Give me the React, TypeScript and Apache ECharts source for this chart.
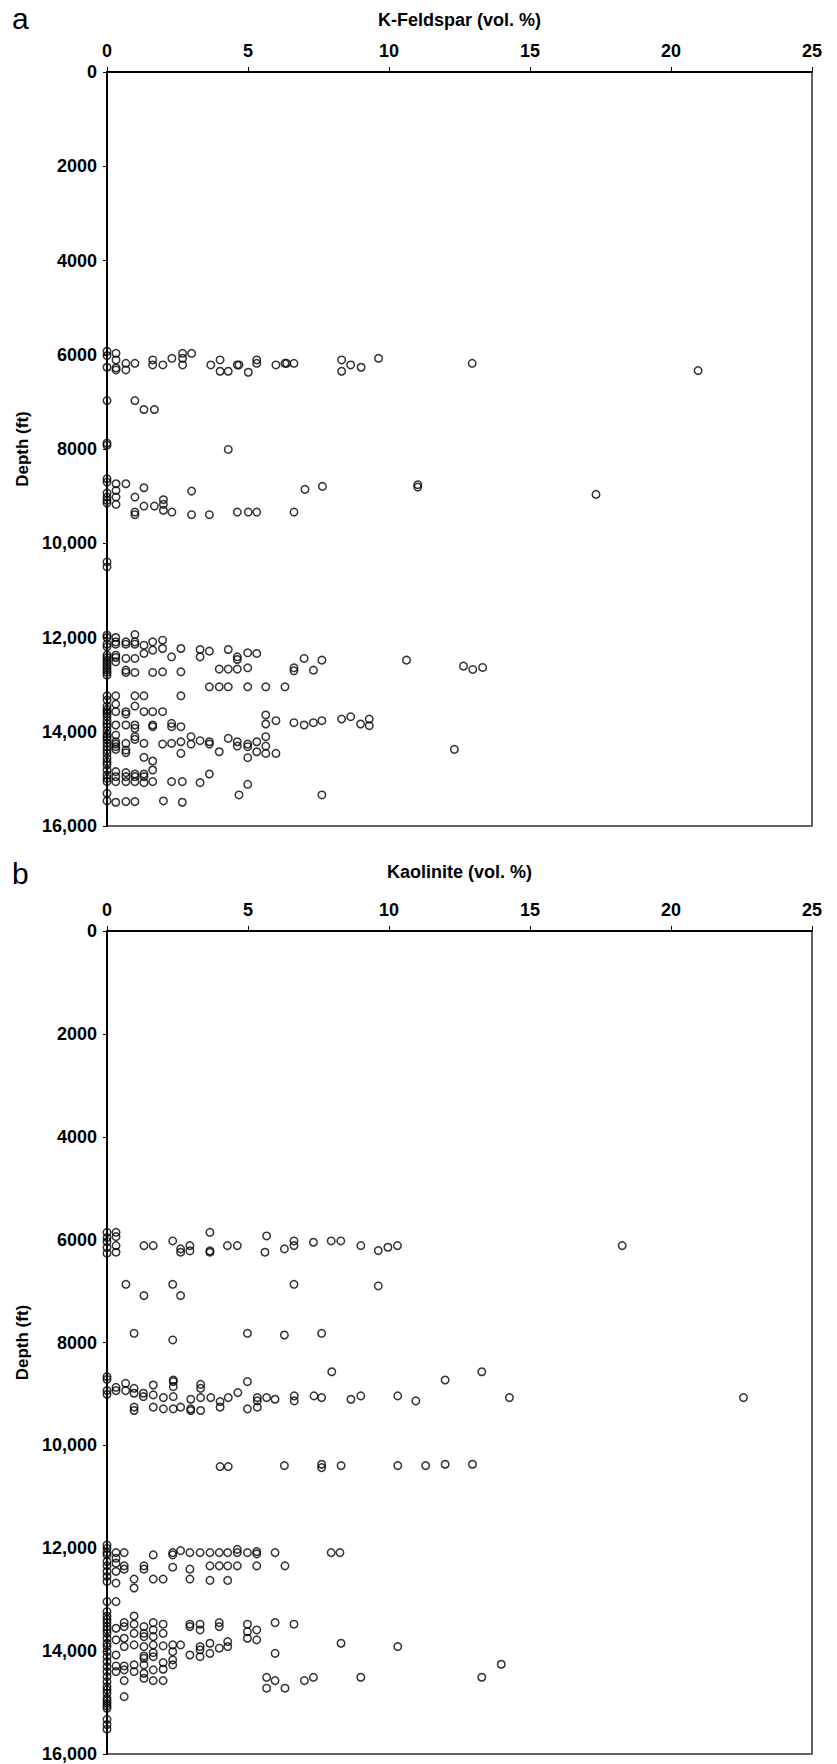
import React, { useEffect, useRef } from "react";
import * as echarts from "echarts";

// ---- Tick labels ----
const volTicks = [0, 5, 10, 15, 20, 25];
const depthTickLabels = ["0", "2000", "4000", "6000", "8000", "10,000", "12,000", "14,000", "16,000"];

// ---- K-Feldspar (vol. %, depth ft) ----
const kfs6000: number[][] = [
  [0, 5926], [0, 6018], [0.32, 5969], [0.32, 6110], [0, 6265], [0.32, 6322], [0.32, 6279], [0.67, 6181], [0.67, 6322],
  [0.99, 6181], [1.62, 6110], [1.62, 6216], [1.98, 6216], [2.3, 6075], [2.68, 5969], [2.68, 6075], [2.68, 6216], [3.0, 5969],
  [3.68, 6216], [4.01, 6110], [4.01, 6350], [4.3, 6350], [4.62, 6216], [4.68, 6216], [5.01, 6371], [5.31, 6110], [5.31, 6181],
  [5.99, 6216], [6.31, 6181], [6.37, 6181], [6.63, 6181], [8.32, 6110], [8.32, 6350], [8.64, 6216], [9.01, 6265], [9.63, 6075],
  [12.95, 6181], [20.96, 6336],
];
const kfs7000: number[][] = [
  [0, 6972], [0.99, 6972], [1.31, 7162], [1.68, 7162], [0, 7876], [0, 7919], [4.3, 8010],
];
const kfs9000: number[][] = [
  [0, 8631], [0, 8702], [0.32, 8737], [0.67, 8737], [1.31, 8822], [3.0, 8893], [0.32, 8879], [0, 8935], [0.99, 9020],
  [0.32, 9020], [0, 9020], [0, 9090], [0, 9147], [0.32, 9175], [1.31, 9211], [1.68, 9211], [2.0, 9076], [2.0, 9175],
  [2.0, 9302], [0.99, 9338], [0.99, 9394], [2.3, 9338], [3.0, 9394], [3.63, 9394], [4.62, 9338], [5.01, 9338], [5.31, 9338],
  [6.63, 9338], [7.02, 8857], [7.64, 8794], [11.02, 8758], [11.02, 8808], [17.34, 8963], [0, 10397], [0, 10503],
];
const kfs12000: number[][] = [
  [0, 11951], [0, 12000], [0.31, 12000], [0.99, 11937], [0.31, 12093], [0.67, 12093], [0.99, 12093], [0, 12142], [0.31, 12142],
  [0.67, 12142], [0.99, 12142], [1.31, 12163], [1.62, 12093], [1.97, 12057], [1.62, 12268], [1.97, 12233], [2.62, 12233],
  [0, 12198], [0, 12375], [0.31, 12375], [1.31, 12339], [3.3, 12255], [3.63, 12290], [4.3, 12255], [4.99, 12325], [5.31, 12339],
  [2.29, 12410], [3.3, 12410], [4.62, 12410], [4.62, 12467], [0, 12424], [0.31, 12424], [0.31, 12516], [0, 12481], [0, 12537],
  [0.67, 12445], [0.99, 12445], [6.99, 12445], [7.62, 12481], [10.62, 12481], [0, 12587], [0, 12643], [0, 12693], [0, 12799],
  [0.67, 12693], [0.67, 12742], [0.99, 12742], [1.62, 12742], [1.97, 12728], [2.62, 12728], [3.98, 12671], [4.3, 12671],
  [4.62, 12671], [4.99, 12643], [6.63, 12643], [6.63, 12707], [7.32, 12693], [0, 12742], [12.64, 12608], [12.97, 12678],
  [13.32, 12636],
];
const kfs13000: number[][] = [
  [3.63, 13046], [3.98, 13046], [4.3, 13046], [4.99, 13046], [5.63, 13046], [6.31, 13046],
  [0, 13237], [0.31, 13237], [0.99, 13237], [1.31, 13237], [2.62, 13237],
  [0, 13328], [0, 13455], [0.31, 13413], [0.99, 13455], [0, 13526],
  [0, 13575], [0.31, 13575], [0.67, 13575], [0.67, 13625], [1.31, 13575], [1.62, 13575], [1.97, 13575], [0, 13681],
  [5.63, 13645], [5.63, 13836], [5.99, 13766], [6.63, 13808], [6.99, 13857], [7.32, 13808], [7.62, 13766], [8.32, 13730],
  [8.64, 13681], [8.99, 13836], [9.3, 13730], [9.3, 13872],
  [0, 13766], [0, 13893], [0.31, 13857], [0.67, 13857], [0.99, 13857], [0.99, 13928], [1.62, 13857], [1.62, 13893],
  [2.29, 13822], [2.29, 13893], [2.62, 13893], [0, 13978], [0, 13622], [0, 13832],
];
const kfs14000: number[][] = [
  [0, 14056], [0.31, 14070], [0.99, 14105], [0.99, 14162], [2.98, 14105], [2.98, 14261], [3.3, 14190], [3.63, 14212],
  [3.63, 14261], [4.3, 14141], [4.62, 14212], [4.62, 14303], [4.99, 14261], [4.99, 14317], [5.31, 14212], [5.63, 14105],
  [5.63, 14303], [0, 14162], [0.31, 14212], [0.31, 14261], [0.67, 14247], [1.31, 14247], [1.97, 14261], [2.29, 14247],
  [2.62, 14212], [0, 14317], [0.31, 14317], [0.31, 14374], [0.67, 14388], [0.67, 14445], [0, 14459], [2.62, 14459],
  [3.98, 14424], [5.31, 14424], [5.63, 14459], [5.99, 14459], [0, 14388], [12.32, 14374], [0, 14113], [0, 14238],
];
const kfs15000: number[][] = [
  [1.31, 14544], [4.99, 14551], [1.62, 14621], [0, 14706], [1.62, 14812], [0, 14812], [0.31, 14847], [0.67, 14868],
  [0.99, 14897], [1.31, 14897], [1.31, 14953], [0.31, 14953], [0.67, 14953], [0.99, 14953], [3.63, 14897], [0, 14918],
  [0, 15059], [0.31, 15059], [0.67, 15059], [0.99, 15059], [1.31, 15080], [1.62, 15059], [2.29, 15059], [2.67, 15059],
  [3.3, 15080], [4.99, 15115], [0, 15306], [0, 15468], [0.31, 15496], [0.67, 15482], [0.99, 15482], [2.0, 15468],
  [2.67, 15496], [4.68, 15341], [7.62, 15341], [0, 14560], [0, 14640], [0, 14990],
];

// ---- Kaolinite (vol. %, depth ft) ----
const kao6000: number[][] = [
  [0, 5858], [0, 5961], [0, 6039], [0, 6155], [0, 6264], [0.32, 5858], [0.32, 5942], [0.32, 6116], [0.32, 6245],
  [1.31, 6116], [1.64, 6116], [2.33, 6026], [2.61, 6180], [2.61, 6245], [2.94, 6116], [2.94, 6219], [3.65, 5858],
  [3.65, 6219], [3.65, 6245], [4.27, 6116], [4.62, 6116], [5.66, 5929], [5.6, 6245], [6.29, 6180], [6.63, 6026],
  [6.63, 6116], [7.32, 6051], [7.95, 6026], [8.29, 6026], [9.0, 6116], [9.62, 6213], [9.96, 6148], [10.3, 6116],
  [18.27, 6116],
  [0.67, 6869], [1.31, 7088], [2.33, 6869], [2.61, 7088], [6.63, 6869], [9.62, 6901],
  [0.96, 7821], [2.33, 7950], [4.98, 7821], [6.29, 7854], [7.61, 7821],
];
const kao9000: number[][] = [
  [0, 8665], [0, 8716], [0, 8935], [0, 9006], [0.32, 8871], [0.32, 8935], [0.66, 8794], [0.66, 8935], [0.96, 8890],
  [0.96, 8987], [0.96, 9257], [0.96, 9322], [1.29, 8987], [1.29, 9051], [1.64, 8826], [1.64, 9019], [1.64, 9257],
  [2.0, 9071], [2.0, 9290], [2.35, 8729], [2.35, 8761], [2.35, 8858], [2.35, 9051], [2.35, 9290], [2.61, 9257],
  [2.97, 9103], [2.97, 9290], [2.97, 9322], [3.32, 8813], [3.32, 8890], [3.32, 9071], [3.32, 9322], [3.68, 9071],
  [4.01, 9148], [4.01, 9257], [4.3, 9071], [4.64, 8974], [4.98, 8761], [4.98, 9290], [5.33, 9071], [5.33, 9135],
  [5.33, 9257], [5.66, 9071], [5.96, 9103], [6.64, 9038], [6.64, 9135], [7.34, 9038], [7.61, 9071], [7.97, 8569],
  [8.65, 9103], [9.0, 9038], [10.31, 9038], [10.95, 9135], [11.99, 8729], [13.29, 8569], [14.27, 9071], [22.57, 9071],
  [4.01, 10412], [4.3, 10412], [6.29, 10393], [7.61, 10367], [7.61, 10432], [8.3, 10393], [10.31, 10393], [11.3, 10393],
  [11.99, 10367], [12.96, 10367],
];
const kao12000: number[][] = [
  [0, 11936], [0, 12001], [0, 12085], [0, 12129], [0.32, 12085], [0.61, 12085], [0.32, 12193], [1.64, 12129], [2.33, 12085],
  [2.61, 12046], [2.33, 12129], [2.94, 12085], [3.3, 12085], [3.65, 12085], [3.98, 12085], [4.28, 12085], [4.62, 12020],
  [4.62, 12085], [4.98, 12085], [5.31, 12065], [5.31, 12110], [5.96, 12085], [7.95, 12085], [8.26, 12085],
  [0, 12258], [0, 12342], [0, 12451], [0, 12548], [0, 12645], [0.32, 12290], [0.32, 12451], [0.32, 12677], [0.61, 12342],
  [0.61, 12406], [1.31, 12342], [1.31, 12406], [0.96, 12599], [0.96, 12773], [1.64, 12599], [1.99, 12599], [2.33, 12368],
  [2.94, 12406], [2.94, 12599], [3.65, 12625], [4.28, 12625], [3.65, 12342], [3.98, 12342], [4.28, 12342], [4.62, 12342],
  [5.31, 12342], [6.31, 12342], [0, 13038], [0.32, 13038],
];
const kao14000: number[][] = [
  [0, 13233], [0, 13317], [0, 13381], [0, 13446], [0, 13523], [0, 13588], [0, 13654], [0, 13750], [0, 13847], [0, 13911],
  [0, 14011], [0, 14108], [0, 14204], [0, 14301], [0, 14399], [0, 14496], [0, 14593], [0, 14689], [0, 14821], [0, 14917],
  [0, 15014], [0, 15111], [0, 15325], [0, 15518], [0, 14753], [0, 14966], [0, 15066], [0, 15428],
  [0.32, 13555], [0.32, 13782], [0.32, 14075], [0.32, 14288], [0.32, 14397],
  [0.61, 13446], [0.61, 13523], [0.61, 13750], [0.61, 13911], [0.61, 14288], [0.61, 14365], [0.61, 14573], [0.61, 14885],
  [0.96, 13317], [0.96, 13477], [0.96, 13654], [0.96, 13879], [0.96, 14268], [0.96, 14397],
  [1.31, 13523], [1.31, 13654], [1.31, 13718], [1.31, 13911], [1.31, 14095], [1.31, 14140], [1.31, 14268], [1.31, 14430],
  [1.31, 14528],
  [1.64, 13446], [1.64, 13588], [1.64, 13718], [1.64, 13879], [1.64, 14030], [1.64, 14108], [1.64, 14365], [1.64, 14573],
  [1.99, 13477], [1.99, 13654], [1.99, 13898], [1.99, 14223], [1.99, 14352], [1.99, 14573],
  [2.33, 13879], [2.33, 14011], [2.33, 14172], [2.33, 14268], [2.61, 13879],
  [2.94, 13477], [2.94, 13523], [2.94, 14075],
  [3.3, 13477], [3.3, 13588], [3.3, 13911], [3.3, 13975], [3.3, 14108],
  [3.65, 13847], [3.65, 14043], [3.98, 13446], [3.98, 13523], [3.98, 13943], [4.28, 13814], [4.28, 13911],
  [4.98, 13477], [4.98, 13622], [4.98, 13750], [5.31, 13588], [5.31, 13782], [5.96, 13446], [5.96, 14043], [6.63, 13477],
  [5.66, 14509], [5.66, 14721], [5.96, 14573], [6.31, 14721], [7.0, 14573], [7.32, 14509],
  [8.3, 13847], [10.31, 13911], [9.0, 14508], [13.29, 14508], [13.98, 14255],
];

const kFeldspar = [...kfs6000, ...kfs7000, ...kfs9000, ...kfs12000, ...kfs13000, ...kfs14000, ...kfs15000];
const kaolinite = [...kao6000, ...kao9000, ...kao12000, ...kao14000];

const FONT = "'Liberation Sans', Arial, Helvetica, sans-serif";

export default function App() {
  const ref = useRef<HTMLDivElement>(null);
  useEffect(() => {
    if (!ref.current) return;
    const chart = echarts.init(ref.current, undefined, { renderer: "svg" });
    const xAxisBase = (name: string, gridIndex: number, nameGap: number) => ({
      type: "value",
      gridIndex,
      position: "top",
      min: volTicks[0],
      max: volTicks[volTicks.length - 1],
      interval: 5,
      name,
      nameLocation: "middle",
      nameGap,
      nameTextStyle: { fontFamily: FONT, fontWeight: "bold", fontSize: 18, color: "#000" },
      axisLine: { show: true, onZero: false, lineStyle: { color: "#000", width: 2 } },
      axisTick: { show: true, inside: false, length: 5, lineStyle: { color: "#000", width: 1 } },
      axisLabel: { fontFamily: FONT, fontWeight: "bold", fontSize: 18, color: "#000", margin: 12 },
      splitLine: { show: false },
    });
    const yAxisBase = (gridIndex: number) => ({
      type: "value",
      gridIndex,
      inverse: true,
      min: 0,
      max: 16000,
      interval: 2000,
      name: "Depth (ft)",
      nameLocation: "middle",
      nameGap: 72,
      nameTextStyle: { fontFamily: FONT, fontWeight: "bold", fontSize: 17, color: "#000" },
      axisLine: { show: true, onZero: false, lineStyle: { color: "#000", width: 2 } },
      axisTick: { show: true, inside: false, length: 4, lineStyle: { color: "#000", width: 1 } },
      axisLabel: {
        fontFamily: FONT,
        fontWeight: "bold",
        fontSize: 18,
        color: "#000",
        margin: 10,
        formatter: (v: number) => depthTickLabels[Math.round(v / 2000)] ?? String(v),
      },
      splitLine: { show: false },
    });
    const marker = {
      type: "scatter",
      symbol: "circle",
      symbolSize: 7.5,
      itemStyle: { color: "rgba(255,255,255,0)", borderColor: "#000", borderWidth: 1.5 },
    };
    chart.setOption({
      animation: false,
      backgroundColor: "#fff",
      grid: [
        { left: 107, top: 72, width: 705, height: 754, show: true, borderColor: "#333", borderWidth: 1.5, backgroundColor: "transparent" },
        { left: 107, top: 931, width: 705, height: 823, show: true, borderColor: "#333", borderWidth: 1.5, backgroundColor: "transparent" },
      ],
      xAxis: [xAxisBase("K-Feldspar (vol. %)", 0, 43), xAxisBase("Kaolinite (vol. %)", 1, 50)],
      yAxis: [yAxisBase(0), yAxisBase(1)],
      series: [
        { ...marker, name: "K-Feldspar", xAxisIndex: 0, yAxisIndex: 0, data: kFeldspar },
        { ...marker, name: "Kaolinite", xAxisIndex: 1, yAxisIndex: 1, data: kaolinite },
      ],
      graphic: [
        { type: "text", left: 12, top: 3, style: { text: "a", fontFamily: FONT, fontSize: 30, fill: "#000" } },
        { type: "text", left: 12, top: 858, style: { text: "b", fontFamily: FONT, fontSize: 30, fill: "#000" } },
      ],
    });
    return () => chart.dispose();
  }, []);
  return (
    <div
      ref={ref}
      style={{ position: "absolute", left: 0, top: 0, width: 837, height: 1764, background: "#fff" }}
    />
  );
}
